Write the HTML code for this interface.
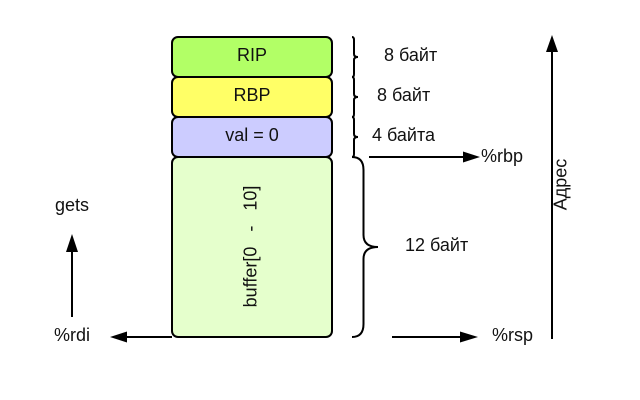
<!DOCTYPE html>
<html>
<head>
<meta charset="utf-8">
<style>
html,body{margin:0;padding:0;background:#fff;}
svg{display:block;}
text{font-family:"Liberation Sans",sans-serif;font-size:18px;fill:#111;}
</style>
</head>
<body>
<svg width="640" height="400" viewBox="0 0 640 400" xmlns="http://www.w3.org/2000/svg">
<rect width="640" height="400" fill="#fff"/>
<g stroke="#000" stroke-width="2">
<rect x="172" y="37" width="160" height="40" rx="6" fill="#b2ff66"/>
<rect x="172" y="77" width="160" height="40" rx="6" fill="#ffff66"/>
<rect x="172" y="117" width="160" height="40" rx="6" fill="#ccccff"/>
<rect x="172" y="157" width="160" height="180" rx="6" fill="#e5ffcc"/>
</g>
<text x="252" y="61" text-anchor="middle">RIP</text>
<text x="252" y="101" text-anchor="middle">RBP</text>
<text x="252" y="141" text-anchor="middle">val = 0</text>
<text transform="translate(256.500,246.500) rotate(-90)" text-anchor="middle" xml:space="preserve">buffer[0   -   10]</text>
<g fill="none" stroke="#000" stroke-width="2">
<path d="M352 37 Q354 37 354 40 V54 Q354 57 358 57 Q354 57 354 60 V74 Q354 77 352 77"/>
<path d="M352 77 Q354 77 354 80 V94 Q354 97 358 97 Q354 97 354 100 V114 Q354 117 352 117"/>
<path d="M352 117 Q354 117 354 120 V134 Q354 137 358 137 Q354 137 354 140 V154 Q354 157 352 157"/>
<path d="M352 157 Q363.500 157 363.500 170 V235 Q363.500 247 378 247 Q363.500 247 363.500 259 V324 Q363.500 337 352 337"/>
</g>
<g stroke="#000" stroke-width="2" fill="none">
<line x1="369" y1="157" x2="464" y2="157"/>
<line x1="392" y1="337" x2="461" y2="337"/>
<line x1="172" y1="337" x2="127" y2="337"/>
<line x1="72" y1="317" x2="72" y2="251"/>
<line x1="552" y1="339" x2="552" y2="51"/>
</g>
<g fill="#000">
<polygon points="463,151.500 480,157 463,162.500"/>
<polygon points="460,331.500 478,337 460,342.500"/>
<polygon points="127,331.500 110,337 127,342.500"/>
<polygon points="66,252 72,234 78,252"/>
<polygon points="546,52 552,35 558,52"/>
</g>
<text x="384" y="61">8 байт</text>
<text x="377" y="101">8 байт</text>
<text x="372" y="141">4 байта</text>
<text x="481" y="162">%rbp</text>
<text x="405" y="251">12 байт</text>
<text x="492" y="341">%rsp</text>
<text x="55" y="211">gets</text>
<text x="54" y="341">%rdi</text>
<text transform="translate(566.500,184.500) rotate(-90)" text-anchor="middle">Адрес</text>
</svg>
</body>
</html>
